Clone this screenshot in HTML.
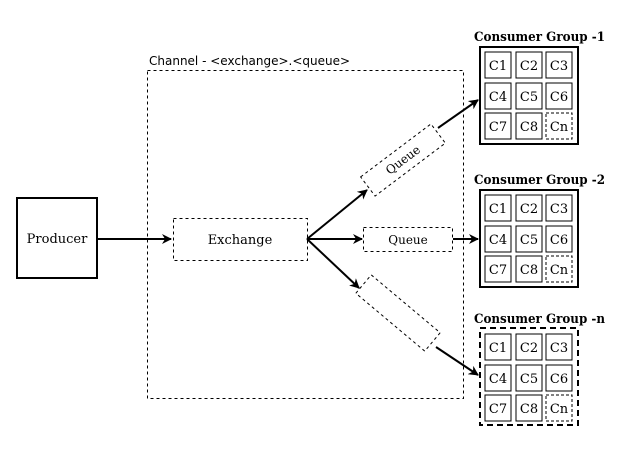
<!DOCTYPE html>
<html><head><meta charset="utf-8"><style>
html,body{margin:0;padding:0;background:#fff;}
svg{display:block;}
text{font-family:"DejaVu Serif","Liberation Serif",serif;}
</style></head><body>
<svg width="627" height="463" viewBox="0 0 627 463" xmlns="http://www.w3.org/2000/svg">
<defs>
<marker id="a" markerWidth="10" markerHeight="10" refX="9" refY="5" orient="auto" markerUnits="userSpaceOnUse">
<path d="M0,0 L10,5 L0,10 L3,5 Z" fill="#000"/>
</marker>
<g id="cells">
<rect x="485" y="52" width="26" height="26" fill="#fff" stroke="#000"/>
<rect x="516" y="52" width="26" height="26" fill="#fff" stroke="#000"/>
<rect x="546" y="52" width="26" height="26" fill="#fff" stroke="#000"/>
<rect x="485" y="83" width="26" height="26" fill="#fff" stroke="#000"/>
<rect x="516" y="83" width="26" height="26" fill="#fff" stroke="#000"/>
<rect x="546" y="83" width="26" height="26" fill="#fff" stroke="#000"/>
<rect x="485" y="113" width="26" height="26" fill="#fff" stroke="#000"/>
<rect x="516" y="113" width="26" height="26" fill="#fff" stroke="#000"/>
<rect x="546" y="113" width="26" height="26" fill="#fff" stroke="#000" stroke-dasharray="3,2"/>
<g font-size="13" text-anchor="middle" fill="#000">
<text x="498" y="70">C1</text><text x="529" y="70">C2</text><text x="559" y="70">C3</text>
<text x="498" y="101">C4</text><text x="529" y="101">C5</text><text x="559" y="101">C6</text>
<text x="498" y="131">C7</text><text x="529" y="131">C8</text><text x="559" y="131">Cn</text>
</g>
</g>
</defs>

<rect x="17" y="198" width="80" height="80" fill="#fff" stroke="#000" stroke-width="2"/>
<text x="57" y="243" font-size="13" text-anchor="middle">Producer</text>

<rect x="147.5" y="70.5" width="316" height="328" fill="none" stroke="#000" stroke-dasharray="3,3"/>
<text x="149" y="65" font-size="12" style="font-family:'DejaVu Sans','Liberation Sans',sans-serif">Channel - &lt;exchange&gt;.&lt;queue&gt;</text>

<rect x="173.5" y="218.5" width="134" height="42" fill="#fff" stroke="#000" stroke-dasharray="3,3"/>
<text x="240" y="244" font-size="13" text-anchor="middle">Exchange</text>

<line x1="97" y1="239" x2="171" y2="239" stroke="#000" stroke-width="2" marker-end="url(#a)"/>
<line x1="307" y1="239" x2="362" y2="239" stroke="#000" stroke-width="2" marker-end="url(#a)"/>
<line x1="307" y1="239" x2="367" y2="190" stroke="#000" stroke-width="2" marker-end="url(#a)"/>
<line x1="307" y1="239" x2="359" y2="288" stroke="#000" stroke-width="2" marker-end="url(#a)"/>

<rect x="363.5" y="227.5" width="89" height="24" fill="#fff" stroke="#000" stroke-dasharray="3,3"/>
<text x="408" y="244" font-size="12" text-anchor="middle">Queue</text>
<line x1="453" y1="239" x2="478" y2="239" stroke="#000" stroke-width="2" marker-end="url(#a)"/>

<g transform="translate(403,160) rotate(-37)">
<rect x="-44" y="-12" width="88" height="24" fill="#fff" stroke="#000" stroke-dasharray="3,3"/>
<text x="0" y="4" font-size="12" text-anchor="middle">Queue</text>
</g>
<line x1="438" y1="128" x2="478" y2="100" stroke="#000" stroke-width="2" marker-end="url(#a)"/>

<g transform="translate(398,313) rotate(40)">
<rect x="-45" y="-12" width="90" height="24" fill="#fff" stroke="#000" stroke-dasharray="3,3"/>
</g>
<line x1="436" y1="347" x2="478" y2="375" stroke="#000" stroke-width="2" marker-end="url(#a)"/>

<text x="474" y="41" font-size="13" font-weight="bold" textLength="131" lengthAdjust="spacingAndGlyphs">Consumer Group -1</text>
<rect x="480" y="47" width="98" height="97" fill="#fff" stroke="#000" stroke-width="2"/>
<use href="#cells"/>

<text x="474" y="184" font-size="13" font-weight="bold" textLength="131" lengthAdjust="spacingAndGlyphs">Consumer Group -2</text>
<rect x="480" y="190" width="98" height="97" fill="#fff" stroke="#000" stroke-width="2"/>
<use href="#cells" transform="translate(0,143)"/>

<text x="474" y="323" font-size="13" font-weight="bold" textLength="131" lengthAdjust="spacingAndGlyphs">Consumer Group -n</text>
<rect x="480" y="328" width="98" height="97" fill="#fff" stroke="#000" stroke-width="2" stroke-dasharray="6,4"/>
<use href="#cells" transform="translate(0,282)"/>
</svg>
</body></html>
